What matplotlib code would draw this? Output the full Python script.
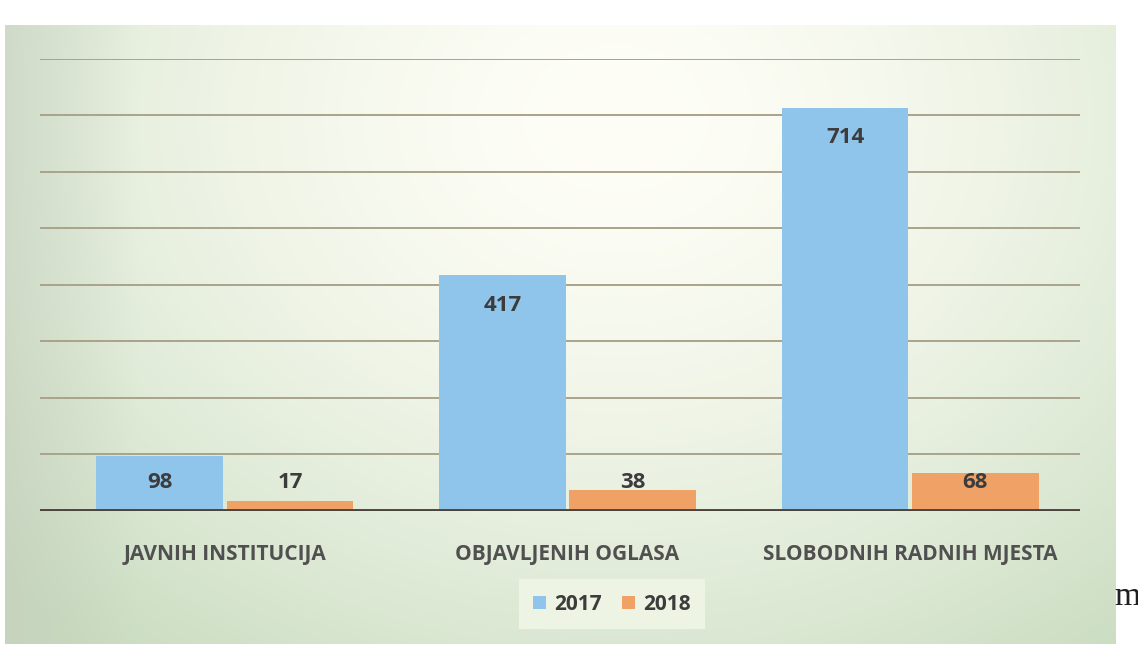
import numpy as np
import matplotlib
matplotlib.use("Agg")
import matplotlib.pyplot as plt
from matplotlib.colors import to_rgb

categories = ["JAVNIH INSTITUCIJA", "OBJAVLJENIH OGLASA", "SLOBODNIH RADNIH MJESTA"]
years = ["2017", "2018"]
values_2017 = [98, 417, 714]
values_2018 = [17, 38, 68]

blue = "#8fc5ea"
orange = "#f0a266"
text_col = "#3c3c3c"

plt.rcParams['font.family'] = ['Open Sans', 'DejaVu Sans']

fig = plt.figure(figsize=(11.38, 6.52), dpi=100)
fig.patch.set_facecolor("white")

# background panel with a soft gradient (photo of a slide)
bg = fig.add_axes([0, 0, 1, 1])
bg.set_xlim(0, 1138)
bg.set_ylim(652, 0)
bg.axis("off")
h, w = 200, 400
yy, xx = np.mgrid[0:h, 0:w]
u = xx / (w - 1)
v = yy / (h - 1)
d = np.sqrt(((u - 0.55) / 0.75) ** 2 + ((v - 0.15) / 1.1) ** 2)
t = np.clip(d, 0, 1) ** 1.6
white = np.array(to_rgb("#fefef6"))
green = np.array(to_rgb("#c9dcc0"))
img = white * (1 - t[..., None]) + green * t[..., None]
left = np.clip((0.12 - u) / 0.12, 0, 1)[..., None]
img = img * (1 - 0.5 * left) + np.array(to_rgb("#c3ccbc")) * 0.5 * left
bg.imshow(img, extent=(5, 1116, 644, 25), aspect="auto", zorder=0)

# main plot
ax = fig.add_axes([0.0351, 0.2163, 0.914, 0.6933])
ax.set_facecolor("none")
x = np.arange(len(categories))
bw = 0.37
ax.bar(x - 0.19, values_2017, bw, color=blue, label=years[0], zorder=3)
ax.bar(x + 0.19, values_2018, bw, color=orange, label=years[1], zorder=3)

for xs, vals in ((x - 0.19, values_2017), (x + 0.19, values_2018)):
    for xi, val in zip(xs, vals):
        ax.text(xi, max(val - 53, 50), str(val), ha="center", va="center",
                fontsize=16, fontweight="bold", color=text_col, zorder=4)

ax.set_xlim(-0.54, 2.496)
ax.set_ylim(0, 800)
ax.set_yticks(np.arange(100, 801, 100))
ax.yaxis.grid(True, color="#a9a38a", linewidth=1.4)
ax.set_axisbelow(True)
ax.tick_params(left=False, labelleft=False, bottom=False)
for s in ax.spines.values():
    s.set_visible(False)
ax.axhline(0, color="#4a443c", linewidth=2.8, zorder=5)

ax.set_xticks(x)
ax.set_xticklabels(categories, fontsize=15, fontweight="bold", color="#505050")
ax.tick_params(axis="x", pad=20)

leg = ax.legend(loc="center", bbox_to_anchor=(612 / 1138, 1 - 604 / 652),
                bbox_transform=fig.transFigure, ncol=2,
                frameon=True, facecolor="#eef4e4", edgecolor="none", framealpha=1,
                prop={"size": 15, "weight": "bold"}, handlelength=0.6,
                handleheight=0.6, columnspacing=1.0, handletextpad=0.4,
                borderpad=0.7, fancybox=False)
for t_ in leg.get_texts():
    t_.set_color(text_col)

# fragment of the page text beside the photo
fig.text(1114 / 1138, 1 - 597 / 652, "m", fontsize=24, family="Liberation Serif",
         color="#202020", va="center", ha="left")

fig.savefig("out.png", dpi=100)
